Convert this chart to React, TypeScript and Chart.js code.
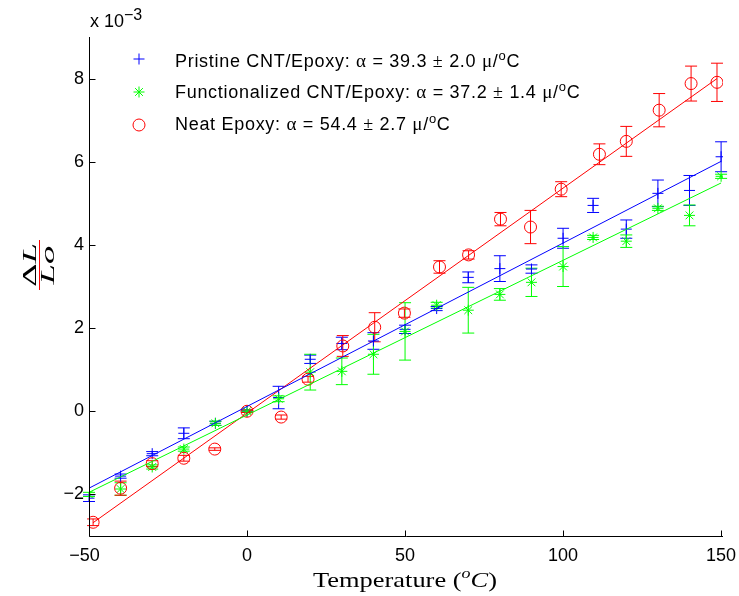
import React, { useEffect, useRef } from "react";
import { Chart, registerables } from "chart.js";

Chart.register(...registerables);

// ---- data (strain values in units of 1e-3) ----
const temps = [-50, -40, -30, -20, -10, 0, 10, 20, 30, 40, 50, 60, 70, 80, 90, 100, 109.5, 120, 130, 140, 150];
const pristine = [-2.09, -1.56, -1.02, -0.53, -0.29, 0, 0.33, 1.25, 1.63, 1.69, 1.97, 2.47, 3.22, 3.43, 3.42, 4.16, 4.95, 4.38, 5.24, 5.31, 6.12];
const pristineErr = [0.08, 0.05, 0.05, 0.13, 0.05, 0.03, 0.27, 0.1, 0.15, 0.2, 0.1, 0.05, 0.13, 0.31, 0.1, 0.24, 0.17, 0.22, 0.32, 0.36, 0.36];
const functionalized = [-2.0, -1.87, -1.34, -0.91, -0.29, 0, 0.3, 0.94, 0.96, 1.37, 1.92, 2.55, 2.43, 2.81, 3.1, 3.48, 4.18, 4.09, 4.88, 4.71, 5.65];
const functionalizedErr = [0.05, 0.15, 0.05, 0.05, 0.05, 0.03, 0.07, 0.43, 0.32, 0.48, 0.69, 0.07, 0.55, 0.14, 0.34, 0.48, 0.05, 0.15, 0.05, 0.25, 0.05];
const neatTemps = [-48.7, -40, -30, -20, -10.2, 0, 10.8, 19.3, 30.3, 40.4, 49.8, 60.9, 70.1, 80.2, 89.7, 99.4, 111.5, 120, 130.4, 140.5, 148.7];
const neat = [-2.67, -1.85, -1.26, -1.13, -0.91, 0, -0.14, 0.77, 1.57, 2.02, 2.36, 3.47, 3.76, 4.62, 4.43, 5.34, 6.18, 6.49, 7.24, 7.88, 7.91];
const neatErr = [0.08, 0.17, 0.07, 0.07, 0.03, 0.03, 0.05, 0.07, 0.25, 0.35, 0.1, 0.15, 0.1, 0.16, 0.4, 0.18, 0.25, 0.36, 0.4, 0.42, 0.46];

// linear fits (end points)
const fitTemps = [-50, 150];
const pristineFit = [-1.85, 6.01];
const functionalizedFit = [-1.95, 5.49];
const neatFitTemps = [-48.7, 148.7];
const neatFit = [-2.68, 8.0];

const xTicks = [-50, 0, 50, 100, 150];
const yTicks = [-2, 0, 2, 4, 6, 8];

const legendNames = ["Pristine CNT/Epoxy: ", "Functionalized CNT/Epoxy: ", "Neat Epoxy: "];
const legendAlpha = ["39.3", "37.2", "54.4"];
const legendPm = ["2.0", "1.4", "2.7"];

const BLUE = "#0000ff";
const GREEN = "#00ff00";
const RED = "#ff0000";
const SANS = "'Liberation Sans', Arial, sans-serif";
const SERIF = "'Liberation Serif', 'Times New Roman', serif";

const pts = (xs: number[], ys: number[]) => xs.map((x, i) => ({ x, y: ys[i] }));

const fmt = (v: number) => (v < 0 ? "\u2212" + Math.abs(v) : String(v));

type Seg = { t: string; f: string; dy?: number };
function drawRich(ctx: CanvasRenderingContext2D, x: number, y: number, segs: Seg[]) {
  let cx = x;
  for (const s of segs) {
    ctx.font = s.f;
    ctx.fillText(s.t, cx, y + (s.dy || 0));
    cx += ctx.measureText(s.t).width;
  }
  return cx - x;
}
function richWidth(ctx: CanvasRenderingContext2D, segs: Seg[]) {
  let w = 0;
  for (const s of segs) {
    ctx.font = s.f;
    w += ctx.measureText(s.t).width;
  }
  return w;
}

function marker(ctx: CanvasRenderingContext2D, kind: string, x: number, y: number, color: string) {
  ctx.strokeStyle = color;
  ctx.lineWidth = 1;
  ctx.beginPath();
  if (kind === "cross") {
    ctx.moveTo(x - 5.5, y); ctx.lineTo(x + 5.5, y);
    ctx.moveTo(x, y - 5.5); ctx.lineTo(x, y + 5.5);
  } else if (kind === "star") {
    for (let a = 0; a < 4; a++) {
      const ang = (a * Math.PI) / 4;
      const dx = Math.cos(ang) * 5.5, dy = Math.sin(ang) * 5.5;
      ctx.moveTo(x - dx, y - dy); ctx.lineTo(x + dx, y + dy);
    }
  } else {
    ctx.arc(x, y, 6, 0, Math.PI * 2);
  }
  ctx.stroke();
}

const overlay = {
  id: "overlay",
  beforeDatasetsDraw(chart: any) {
    const { ctx, scales } = chart;
    const xs = scales.x, ys = scales.y;
    const sets: [number[], number[], number[], string][] = [
      [temps, pristine, pristineErr, BLUE],
      [temps, functionalized, functionalizedErr, GREEN],
      [neatTemps, neat, neatErr, RED],
    ];
    ctx.save();
    ctx.lineWidth = 1;
    for (const [tx, vy, er, col] of sets) {
      ctx.strokeStyle = col;
      ctx.beginPath();
      tx.forEach((t, i) => {
        const px = xs.getPixelForValue(t);
        const y1 = ys.getPixelForValue(vy[i] + er[i]);
        const y2 = ys.getPixelForValue(vy[i] - er[i]);
        ctx.moveTo(px, y1); ctx.lineTo(px, y2);
        ctx.moveTo(px - 6, y1); ctx.lineTo(px + 6, y1);
        ctx.moveTo(px - 6, y2); ctx.lineTo(px + 6, y2);
      });
      ctx.stroke();
    }
    ctx.restore();
  },
  afterDraw(chart: any) {
    const { ctx, chartArea, scales } = chart;
    const { left, right, top, bottom } = chartArea;
    ctx.save();
    // axes
    ctx.strokeStyle = "#000";
    ctx.lineWidth = 1;
    ctx.beginPath();
    const L = Math.round(left) + 0.5, B = Math.round(bottom) + 0.5;
    ctx.moveTo(L, top); ctx.lineTo(L, B); ctx.lineTo(right, B);
    for (const v of xTicks) {
      const px = Math.round(scales.x.getPixelForValue(v)) + 0.5;
      ctx.moveTo(px, B); ctx.lineTo(px, B - 6);
    }
    for (const v of yTicks) {
      const py = Math.round(scales.y.getPixelForValue(v)) + 0.5;
      ctx.moveTo(L, py); ctx.lineTo(L + 6, py);
    }
    ctx.stroke();

    ctx.fillStyle = "#000";
    ctx.textBaseline = "alphabetic";
    ctx.textAlign = "left";
    // exponent
    drawRich(ctx, 90, 27, [
      { t: "x 10", f: `18px ${SANS}` },
      { t: "\u22123", f: `16px ${SANS}`, dy: -7 },
    ]);

    // legend
    const kinds = ["cross", "star", "circle"];
    const cols = [BLUE, GREEN, RED];
    const baselines = [67, 98, 130];
    const mcy = [59, 92, 125];
    for (let i = 0; i < 3; i++) {
      marker(ctx, kinds[i], 139, mcy[i], cols[i]);
      ctx.fillStyle = "#000";
      (ctx as any).letterSpacing = "0.7px";
      drawRich(ctx, 175, baselines[i], [
        { t: legendNames[i], f: `18px ${SANS}` },
        { t: "\u03b1", f: `19px ${SERIF}` },
        { t: " = " + legendAlpha[i] + " ", f: `18px ${SANS}` },
        { t: "\u00b1", f: `18px ${SERIF}` },
        { t: " " + legendPm[i] + " ", f: `18px ${SANS}` },
        { t: "\u03bc", f: `19px ${SERIF}` },
        { t: "/", f: `18px ${SANS}` },
        { t: "o", f: `13px ${SANS}`, dy: -7 },
        { t: "C", f: `18px ${SANS}` },
      ]);
      (ctx as any).letterSpacing = "0px";
    }

    // x title
    const xt: Seg[] = [
      { t: "Temperature (", f: `22px ${SERIF}` },
      { t: "o", f: `italic 15px ${SERIF}`, dy: -9 },
      { t: "C", f: `italic 22px ${SERIF}` },
      { t: ")", f: `22px ${SERIF}` },
    ];
    const xw = richWidth(ctx, xt);
    ctx.save();
    ctx.translate(405 - 92, 587);
    ctx.scale(184 / xw, 1);
    drawRich(ctx, 0, 0, xt);
    ctx.restore();

    // y title: fraction dL / Lo, rotated
    ctx.translate(39, 265);
    ctx.rotate(-Math.PI / 2);
    const num: Seg[] = [
      { t: "\u0394", f: `19px ${SERIF}` },
      { t: "L", f: `italic 19px ${SERIF}` },
    ];
    const den: Seg[] = [{ t: "Lo", f: `italic 19px ${SERIF}` }];
    const nw = richWidth(ctx, num);
    const dw = richWidth(ctx, den);
    const ysx = 44 / nw;
    ctx.save();
    ctx.scale(ysx, 1);
    drawRich(ctx, -nw / 2, -3, num);
    drawRich(ctx, -dw / 2, 15, den);
    ctx.restore();
    ctx.beginPath();
    ctx.moveTo(-25, 0.5);
    ctx.lineTo(25, 0.5);
    ctx.stroke();
    ctx.restore();
  },
};

export default function App() {
  const ref = useRef<HTMLCanvasElement | null>(null);
  useEffect(() => {
    if (!ref.current) return;
    const tickFont = { family: SANS, size: 18 };
    const chart = new Chart(ref.current, {
      type: "scatter",
      data: {
        datasets: [
          { label: "Pristine fit", data: pts(fitTemps, pristineFit), showLine: true, borderColor: BLUE, borderWidth: 1, pointRadius: 0, order: 0 },
          { label: "Functionalized fit", data: pts(fitTemps, functionalizedFit), showLine: true, borderColor: GREEN, borderWidth: 1, pointRadius: 0, order: 0 },
          { label: "Neat fit", data: pts(neatFitTemps, neatFit), showLine: true, borderColor: RED, borderWidth: 1, pointRadius: 0, order: 0 },
          { label: "Pristine CNT/Epoxy", data: pts(temps, pristine), pointStyle: "cross", pointRadius: 5.5, borderColor: BLUE, backgroundColor: BLUE, pointBorderWidth: 1, order: 3 },
          { label: "Functionalized CNT/Epoxy", data: pts(temps, functionalized), pointStyle: "star", pointRadius: 5.5, borderColor: GREEN, backgroundColor: GREEN, pointBorderWidth: 1, order: 2 },
          { label: "Neat Epoxy", data: pts(neatTemps, neat), pointStyle: "circle", pointRadius: 6, borderColor: RED, backgroundColor: "rgba(0,0,0,0)", pointBorderWidth: 1, order: 1 },
        ],
      },
      options: {
        animation: false,
        responsive: false,
        devicePixelRatio: 1,
        events: [],
        layout: { padding: { top: 37, right: 16, left: 0, bottom: 0 } },
        plugins: { legend: { display: false }, tooltip: { enabled: false } },
        scales: {
          x: {
            type: "linear",
            min: -50,
            max: 150.6,
            afterFit: (s: any) => { s.height = 60; s.paddingLeft = 0; s.paddingRight = 0; },
            afterBuildTicks: (s: any) => { s.ticks = xTicks.map((v) => ({ value: v })); },
            ticks: {
              autoSkip: false, maxRotation: 0, padding: 9, color: "#000", font: tickFont,
              callback: (v: any) => (Number(v) < 0 ? fmt(Number(v)) + "\u2002" : fmt(Number(v))),
            },
            grid: { display: false, drawTicks: false },
            border: { display: false },
          },
          y: {
            type: "linear",
            min: -3,
            max: 9,
            afterFit: (s: any) => { s.width = 89; s.paddingTop = 0; s.paddingBottom = 0; },
            afterBuildTicks: (s: any) => { s.ticks = yTicks.map((v) => ({ value: v })); },
            ticks: { autoSkip: false, padding: 5, color: "#000", font: tickFont, callback: (v: any) => fmt(Number(v)) },
            grid: { display: false, drawTicks: false },
            border: { display: false },
          },
        },
      },
      plugins: [overlay],
    } as any);
    return () => chart.destroy();
  }, []);
  return (
    <div style={{ position: "absolute", left: 0, top: 0, width: 739, height: 596, background: "#fff" }}>
      <canvas ref={ref} width={739} height={596} style={{ display: "block", width: 739, height: 596 }} />
    </div>
  );
}
